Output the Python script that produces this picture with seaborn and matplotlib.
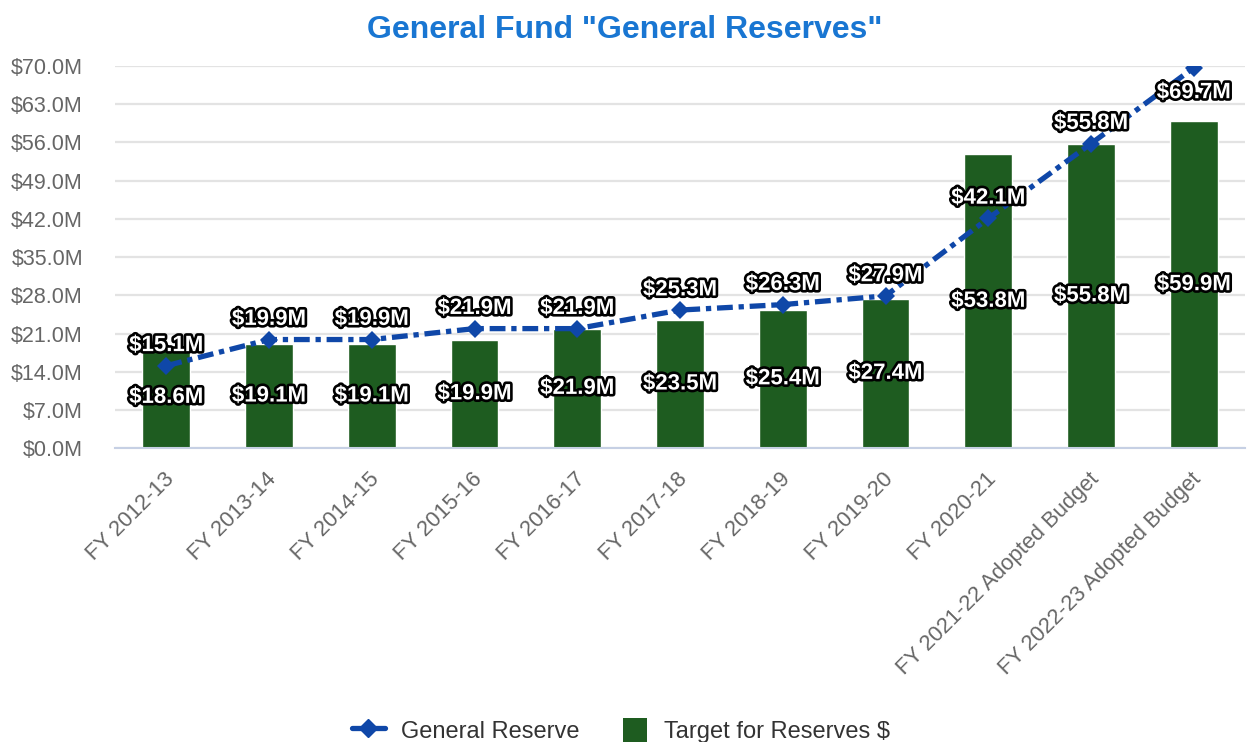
import numpy as np
import matplotlib
matplotlib.use("Agg")
import matplotlib.pyplot as plt
import matplotlib.patheffects as pe
import matplotlib.transforms as mtrans
from matplotlib.lines import Line2D
from matplotlib.patches import Patch, Rectangle
from matplotlib.legend_handler import HandlerPatch
import seaborn as sns

categories = ["FY 2012-13", "FY 2013-14", "FY 2014-15", "FY 2015-16", "FY 2016-17",
              "FY 2017-18", "FY 2018-19", "FY 2019-20", "FY 2020-21",
              "FY 2021-22 Adopted Budget", "FY 2022-23 Adopted Budget"]
general_reserve = [15.1, 19.9, 19.9, 21.9, 21.9, 25.3, 26.3, 27.9, 42.1, 55.8, 69.7]
target_reserves = [18.6, 19.1, 19.1, 19.9, 21.9, 23.5, 25.4, 27.4, 53.8, 55.8, 59.9]
y_ticks = [0, 7, 14, 21, 28, 35, 42, 49, 56, 63, 70]

sns.set_theme(style="white")
plt.rcParams['font.family'] = ['Liberation Sans', 'DejaVu Sans']

GREEN = "#1e5c20"
BLUE = "#0f47a8"
LS = (0, (3.0, 1.1, 1.0, 1.1))

fig = plt.figure(figsize=(12.49, 7.42), dpi=100)
ax = fig.add_axes([0.092, 0.396, 0.905, 0.515])

sns.barplot(x=categories, y=target_reserves, color=GREEN, saturation=1, width=0.465, ax=ax, zorder=2)
x = np.arange(len(categories))
sns.lineplot(x=x, y=general_reserve, ax=ax, color=BLUE, linewidth=3.8,
             marker="D", markersize=9, markeredgewidth=0, zorder=3, linestyle=LS)

ax.set_xlim(-0.5, len(categories) - 0.5)
ax.set_ylim(0, 70)
ax.set_yticks(y_ticks)
ax.set_yticklabels([f"${v:.1f}M" for v in y_ticks])
ax.set_xticks(x)
ax.set_xticklabels(categories, rotation=45, ha="right", rotation_mode="anchor")
ax.tick_params(axis="y", labelsize=15.5, colors="#666666", length=0, pad=23)
ax.tick_params(axis="x", labelsize=15.8, colors="#666666", length=0, pad=6)
offset = mtrans.ScaledTranslation(-3 / 100, -12 / 100, fig.dpi_scale_trans)
for lab in ax.get_xticklabels():
    lab.set_transform(lab.get_transform() + offset)
ax.set_xlabel("")
ax.set_ylabel("")
ax.grid(axis="y", color="#e3e3e3", linewidth=1.6, zorder=0)
ax.set_axisbelow(True)
for s in ["left", "right", "top"]:
    ax.spines[s].set_visible(False)
ax.spines["bottom"].set_color("#c6d0e4")
ax.spines["bottom"].set_linewidth(1.5)

stroke = [pe.withStroke(linewidth=3.8, foreground="black")]
for i, v in enumerate(target_reserves):
    ax.text(i, v / 2, f"${v:.1f}M", ha="center", va="center", fontsize=16,
            fontweight="bold", color="white", path_effects=stroke, zorder=5)
for i, v in enumerate(general_reserve):
    if i == len(general_reserve) - 1:
        off = -18
    else:
        off = 14.5
    ax.annotate(f"${v:.1f}M", (i, v), xytext=(0, off), textcoords="offset points",
                ha="center", va="center", fontsize=16, fontweight="bold",
                color="white", path_effects=stroke, zorder=5, annotation_clip=False)

fig.suptitle('General Fund "General Reserves"', x=0.5, y=0.98, fontsize=23,
             fontweight="bold", color="#1976d2")


class SquareHandler(HandlerPatch):
    def create_artists(self, legend, orig_handle, xdescent, ydescent, width, height,
                       fontsize, trans):
        side = height * 1.05
        r = Rectangle((width - side - xdescent, -ydescent + (height - side) / 2), side, side,
                      facecolor=orig_handle.get_facecolor(), edgecolor="none")
        r.set_transform(trans)
        return [r]


handles = [Line2D([0], [0], color=BLUE, linewidth=3.8, marker="D", markersize=9,
                  linestyle="-"),
           Patch(facecolor=GREEN, edgecolor=GREEN)]
fig.legend(handles, ["General Reserve", "Target for Reserves $"], loc="lower center",
           bbox_to_anchor=(0.497, -0.03), ncol=2, frameon=False, fontsize=17,
           labelcolor="#333333", columnspacing=1.45, handlelength=1.4,
           handleheight=1.1, handletextpad=0.7,
           handler_map={Patch: SquareHandler()})

fig.savefig("out.png", dpi=100)
